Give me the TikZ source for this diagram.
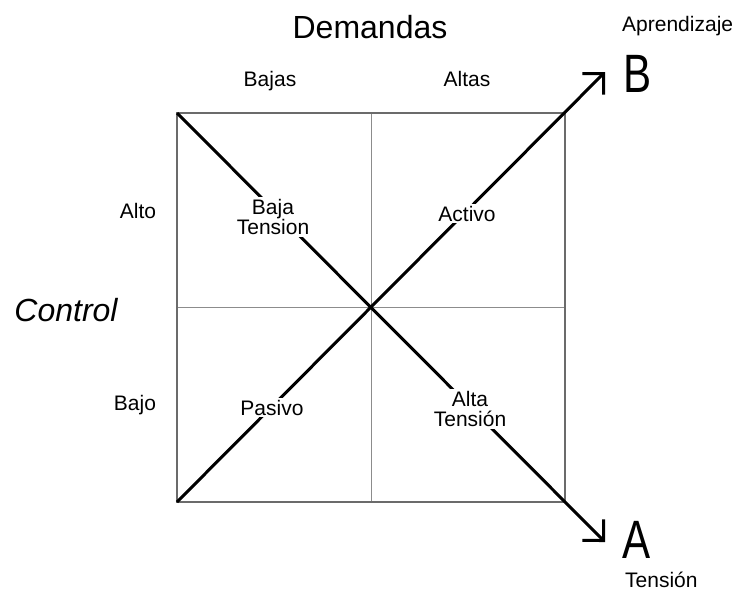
\documentclass[tikz,border=0pt]{standalone}
\usepackage{fontspec}
\usepackage{graphicx}
\setmainfont{Liberation Sans}
\usetikzlibrary{arrows.meta}
\begin{document}
\begin{tikzpicture}[x=1pt,y=-1pt,
  lbl/.style={font=\fontsize{21}{24}\selectfont, inner sep=0pt, anchor=base},
  onlbl/.style={lbl, fill=white, inner sep=2pt},
  twolbl/.style={font=\fontsize{21}{18}\selectfont, fill=white, inner sep=2pt, align=center, anchor=center},
  bigt/.style={font=\fontsize{32}{36}\selectfont, inner sep=0pt, anchor=base},
  letter/.style={font=\fontsize{54}{60}\selectfont, inner sep=0pt},
  border/.style={draw=black!58, line width=2.8pt},
  grid/.style={draw=black!45, line width=1pt},
  diag/.style={draw=black, line width=3pt, -{Straight Barb[length=15pt,width=30pt]}}]
\useasboundingbox[fill=white] (0,0) rectangle (741,594);
% square
\coordinate (tl) at (177,113);
\coordinate (tr) at (565,113);
\coordinate (br) at (565,502);
\coordinate (bl) at (177,502);
\coordinate (tm) at (371,113);
\coordinate (bm) at (371,502);
\coordinate (lm) at (177,307.5);
\coordinate (rm) at (565,307.5);
\coordinate (tipA) at (605,542);
\coordinate (tipB) at (605,72);
\draw[grid] (tm) -- (bm);
\draw[grid] (lm) -- (rm);
\draw[border] (tl) -- (tr) -- (br) -- (bl) -- cycle;
\draw[diag] (tl) -- (tipA);
\draw[diag] (bl) -- (tipB);
% titles
\node[bigt] (dem) at (370,38) {Demandas};
\node[bigt, font=\fontsize{32}{36}\selectfont\itshape] (ctrl) at (66,321) {Control};
\node[lbl] (bajas) at (270,86) {Bajas};
\node[lbl] (altas) at (467,86) {Altas};
\node[lbl] (alto) at (138,218) {Alto};
\node[lbl] (bajo) at (135,410) {Bajo};
% quadrant labels
\node[twolbl] (bt) at (273,217) {Baja\\Tension};
\node[onlbl] (act) at (467,221) {Activo};
\node[onlbl] (pas) at (272,415) {Pasivo};
\node[twolbl, font=\fontsize{21}{20}\selectfont] (at) at (470,409) {Alta\\Tensión};
% ends
\node[letter] (B) at (638,74) {\scalebox{0.78}[1]{B}};
\node[letter] (A) at (637,540) {\scalebox{0.78}[1]{A}};
\node[lbl, anchor=base west] (apr) at (622,32) {Aprendizaje};
\node[lbl, anchor=base west] (ten) at (625,587) {Tensión};
\end{tikzpicture}
\end{document}
